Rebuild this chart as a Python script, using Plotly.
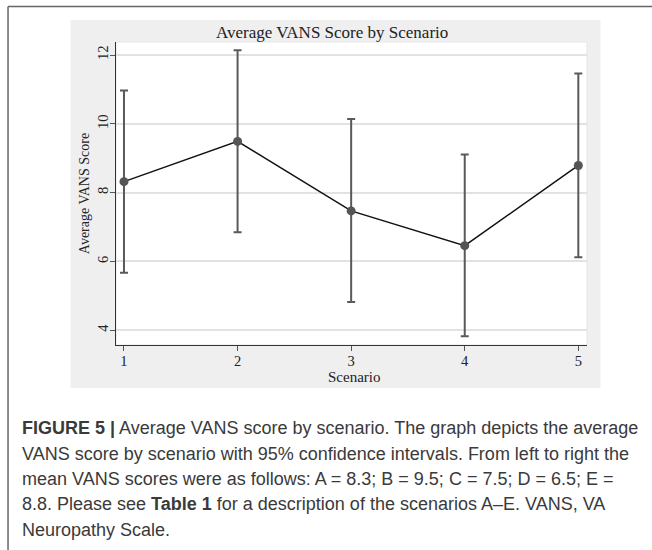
import plotly.graph_objects as go

# ---- data ----
scenarios = [1, 2, 3, 4, 5]
mean_vans = [8.32, 9.49, 7.47, 6.46, 8.79]
ci_upper = [10.97, 12.14, 10.14, 9.11, 11.46]
ci_lower = [5.67, 6.85, 4.82, 3.83, 6.12]
y_ticks = [4, 6, 8, 10, 12]
x_ticks = [1, 2, 3, 4, 5]

title_text = "Average VANS Score by Scenario"
x_title = "Scenario"
y_title = "Average VANS Score"
caption_lines = [
    "<b>FIGURE 5 |</b> Average VANS score by scenario. The graph depicts the average",
    "VANS score by scenario with 95% confidence intervals. From left to right the",
    "mean VANS scores were as follows: A = 8.3; B = 9.5; C = 7.5; D = 6.5; E =",
    "8.8. Please see <b>Table 1</b> for a description of the scenarios A\u2013E. VANS, VA",
    "Neuropathy Scale.",
]

err_plus = [u - m for u, m in zip(ci_upper, mean_vans)]
err_minus = [m - l for m, l in zip(mean_vans, ci_lower)]

# ---- layout geometry (pixels) ----
W, H = 652, 550
L, R, T, B = 115.5, 587.5, 42, 345


def px(x):
    return (x - L) / (R - L)


def py(y):
    return (B - y) / (B - T)


serif = "Liberation Serif, Times New Roman, serif"
txt = "#222222"

fig = go.Figure()
fig.add_trace(go.Scatter(
    x=scenarios, y=mean_vans, mode="lines+markers",
    line=dict(color="#111111", width=1.5),
    marker=dict(color="#555555", size=9),
    error_y=dict(type="data", symmetric=False, array=err_plus, arrayminus=err_minus,
                 color="#5a5a5a", thickness=2, width=4),
    showlegend=False, hoverinfo="x+y",
))

shapes = [
    # gray graph region
    dict(type="rect", xref="paper", yref="paper", x0=px(70), x1=px(601), y0=py(388), y1=py(20),
         fillcolor="#efefef", line=dict(width=0), layer="below"),
    # white plot region
    dict(type="rect", xref="paper", yref="paper", x0=0, x1=1, y0=0, y1=1,
         fillcolor="white", line=dict(color="#e6e6e6", width=1), layer="below"),
    # outer frame (top and left)
    dict(type="line", xref="paper", yref="paper", x0=px(7.3), x1=px(660), y0=py(6.5), y1=py(6.5),
         line=dict(color="#666666", width=1.5)),
    dict(type="line", xref="paper", yref="paper", x0=px(7.3), x1=px(7.3), y0=py(6.5), y1=py(560),
         line=dict(color="#666666", width=1.5)),
]

annotations = [
    dict(text=title_text, xref="paper", yref="paper", x=px(332), y=py(32),
         xanchor="center", yanchor="middle", showarrow=False,
         font=dict(family=serif, size=17, color=txt)),
    dict(text=x_title, xref="paper", yref="paper", x=px(354), y=py(377),
         xanchor="center", yanchor="middle", showarrow=False,
         font=dict(family=serif, size=15, color=txt)),
]
caption_y = [428, 453.5, 479, 504.5, 530]
for line, yy in zip(caption_lines, caption_y):
    annotations.append(dict(text=line, xref="paper", yref="paper", x=px(19), y=py(yy),
                            xanchor="left", yanchor="middle", showarrow=False, align="left",
                            font=dict(family="Liberation Sans, Arial, sans-serif", size=18,
                                      color="#3a3a3a")))

fig.update_layout(
    width=W, height=H,
    margin=dict(l=L, r=W - R, t=T, b=H - B, pad=0),
    paper_bgcolor="white", plot_bgcolor="white",
    shapes=shapes, annotations=annotations,
    xaxis=dict(range=[0.9297, 5.0764], tickvals=x_ticks, ticktext=[str(v) for v in x_ticks],
               automargin=False,
               showgrid=False, zeroline=False, showline=True, linecolor="#333333", linewidth=1.3,
               ticks="outside", ticklen=5, tickwidth=1.2, tickcolor="#555555",
               tickfont=dict(family=serif, size=14.5, color=txt), ticklabelstandoff=-3),
    yaxis=dict(range=[3.573, 12.378], tickvals=y_ticks, ticktext=[str(v) for v in y_ticks],
               tickangle=-90, automargin=False,
               showgrid=True, gridcolor="#e2e2e2", gridwidth=1.5, zeroline=False,
               showline=True, linecolor="#333333", linewidth=1.3,
               ticks="outside", ticklen=5, tickwidth=1.2, tickcolor="#555555",
               tickfont=dict(family=serif, size=14.5, color=txt), ticklabelstandoff=-4,
               title=dict(text=y_title, font=dict(family=serif, size=14, color=txt), standoff=2)),
)

fig.write_html("out.html", config={"displayModeBar": False},
               post_script="document.body.style.margin='0';")
